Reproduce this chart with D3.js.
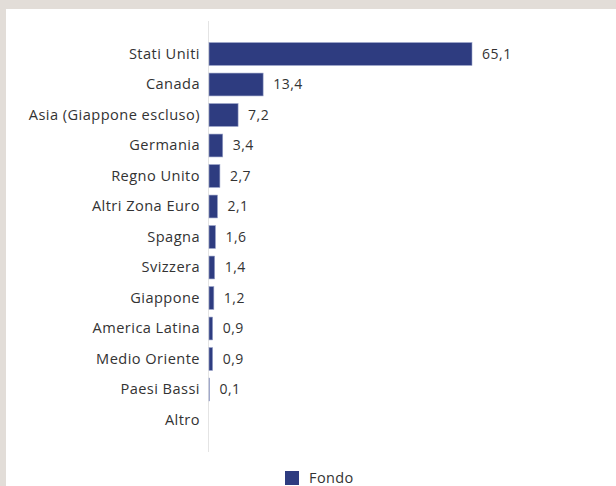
<!DOCTYPE html>
<html>
<head>
<meta charset="utf-8">
<script src="https://cdn.jsdelivr.net/npm/d3@7/dist/d3.min.js"></script>
<style>
  html, body { margin: 0; padding: 0; background: #e2ddd8; }
  svg { display: block; }
</style>
</head>
<body>
<svg id="chart" width="616" height="486"></svg>
<script>
const categories = ["Stati Uniti", "Canada", "Asia (Giappone escluso)", "Germania", "Regno Unito",
  "Altri Zona Euro", "Spagna", "Svizzera", "Giappone", "America Latina", "Medio Oriente",
  "Paesi Bassi", "Altro"];
const values = [65.1, 13.4, 7.2, 3.4, 2.7, 2.1, 1.6, 1.4, 1.2, 0.9, 0.9, 0.1, null];
const seriesName = "Fondo";

const svg = d3.select("#chart");
const font = "'Open Sans', sans-serif";
const textColor = "#333333";
const barColor = "#2e3c80";

// white panel
svg.append("rect").attr("x", 6).attr("y", 9).attr("width", 610).attr("height", 477).attr("fill", "#ffffff");

const x0 = 209;
const x = d3.scaleLinear().domain([0, 65.1]).range([x0, 472]);
const y = d3.scaleBand().domain(categories).range([38.75, 435.25]).paddingInner(0.25).paddingOuter(0.125);

// axis line
svg.append("line").attr("x1", 208.5).attr("x2", 208.5).attr("y1", 21).attr("y2", 452)
  .attr("stroke", "#e4e4e4").attr("stroke-width", 1);

const rows = categories.map((c, i) => ({ c, v: values[i] }));

// category labels via axis
const yAxis = d3.axisLeft(y).tickSize(0).tickPadding(0);
const ag = svg.append("g").attr("transform", `translate(200,0)`).call(yAxis);
ag.select(".domain").remove();
ag.selectAll("text").attr("font-family", font).attr("font-size", 14.6).attr("letter-spacing", 0.45)
  .attr("fill", textColor);

// bars
svg.append("g").selectAll("rect").data(rows.filter(d => d.v != null)).join("rect")
  .attr("x", x(0))
  .attr("y", d => y(d.c))
  .attr("width", d => x(d.v) - x(0))
  .attr("height", y.bandwidth())
  .attr("fill", barColor)
  .attr("stroke", "#9aa3c8").attr("stroke-width", 0.6);

// value labels
svg.append("g").selectAll("text").data(rows.filter(d => d.v != null)).join("text")
  .attr("x", d => x(d.v) + 10)
  .attr("y", d => y(d.c) + y.bandwidth() / 2)
  .attr("dy", "0.35em")
  .attr("font-family", font).attr("font-size", 14).attr("letter-spacing", 0.5).attr("fill", textColor)
  .text(d => d3.format(".1f")(d.v).replace(".", ","));

// legend
const lg = svg.append("g").attr("transform", "translate(285,471)");
lg.append("rect").attr("width", 14).attr("height", 14).attr("fill", barColor);
lg.append("text").attr("x", 24).attr("y", 7).attr("dy", "0.35em")
  .attr("font-family", font).attr("font-size", 14.5).attr("letter-spacing", 0.4)
  .attr("fill", textColor).text(seriesName);
</script>
</body>
</html>
